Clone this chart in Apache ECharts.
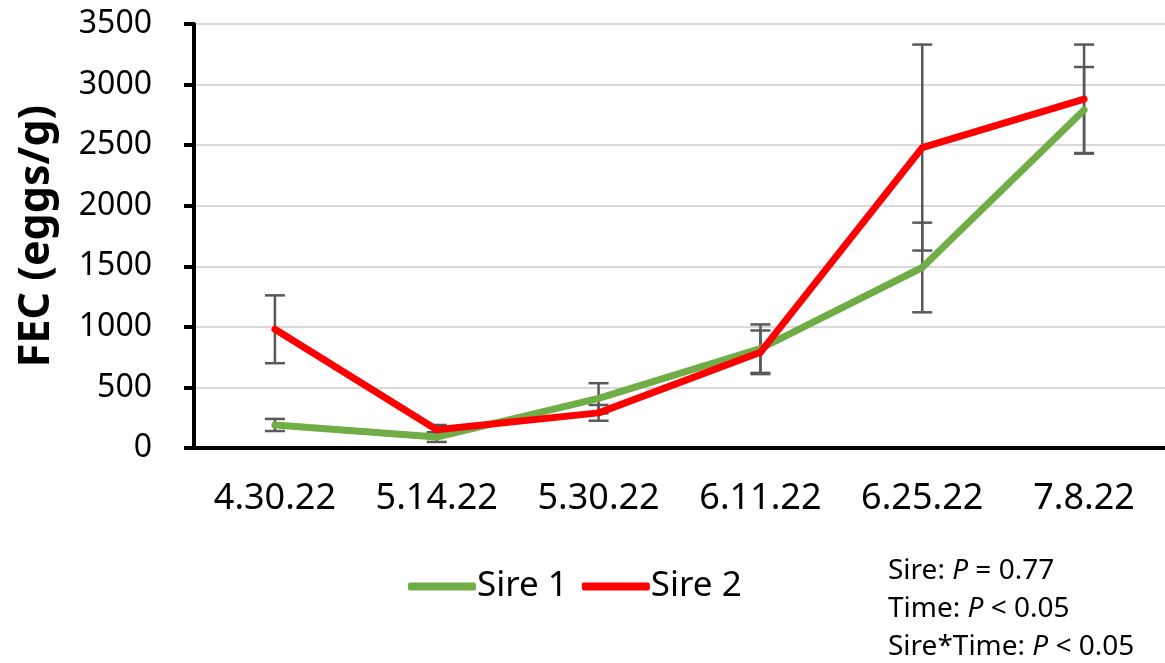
<!DOCTYPE html>
<html>
<head>
<meta charset="utf-8">
<script src="https://cdn.jsdelivr.net/npm/echarts@6/dist/echarts.min.js"></script>
<style>
html,body{margin:0;padding:0;background:#fff;}
#chart{width:1165px;height:663px;}
</style>
</head>
<body>
<div id="chart"></div>
<script>
const categories = ['4.30.22', '5.14.22', '5.30.22', '6.11.22', '6.25.22', '7.8.22'];
const sire1 = [190, 90, 410, 820, 1490, 2790];
const sire1Err = [50, 40, 125, 200, 370, 355];
const sire2 = [980, 150, 290, 790, 2480, 2880];
const sire2Err = [280, 40, 65, 180, 850, 450];
const seriesNames = ['Sire 1', 'Sire 2'];
const statLines = [
  ['Sire: ', 'P', ' = 0.77'],
  ['Time: ', 'P', ' < 0.05'],
  ['Sire*Time: ', 'P', ' < 0.05']
];

const FONT = 'Noto Sans';

function errData(means, errs) {
  return means.map((m, i) => [i, m - errs[i], m + errs[i]]);
}

function renderErr(params, api) {
  const x = api.value(0);
  const lo = api.coord([x, api.value(1)]);
  const hi = api.coord([x, api.value(2)]);
  const hw = 10;
  const style = { stroke: '#595959', lineWidth: 2.5, fill: null };
  return {
    type: 'group',
    children: [
      { type: 'line', shape: { x1: lo[0], y1: lo[1], x2: hi[0], y2: hi[1] }, style },
      { type: 'line', shape: { x1: lo[0] - hw, y1: lo[1], x2: lo[0] + hw, y2: lo[1] }, style },
      { type: 'line', shape: { x1: hi[0] - hw, y1: hi[1], x2: hi[0] + hw, y2: hi[1] }, style }
    ]
  };
}

const chart = echarts.init(document.getElementById('chart'), null, { renderer: 'canvas' });

const statGraphics = statLines.map((l, i) => ({
  type: 'text',
  left: 888,
  top: 557 + i * 38,
  style: {
    text: '{n|' + l[0] + '}{i|' + l[1] + '}{n|' + l[2] + '}',
    rich: {
      n: { fontFamily: FONT, fontSize: 28, fill: '#000' },
      i: { fontFamily: FONT, fontSize: 28, fontStyle: 'italic', fill: '#000' }
    }
  }
}));

chart.setOption({
  backgroundColor: '#fff',
  animation: false,
  grid: { left: 194, right: -4, top: 24, bottom: 215, containLabel: false },
  legend: {
    data: seriesNames,
    left: 403,
    top: 564,
    itemWidth: 68,
    itemHeight: 8,
    itemGap: 14,
    icon: 'roundRect',
    textStyle: { fontFamily: FONT, fontSize: 35, color: '#000', padding: [0, 0, 0, -4] }
  },
  xAxis: {
    type: 'category',
    data: categories,
    boundaryGap: true,
    axisLine: { lineStyle: { color: '#000', width: 4 } },
    axisTick: { alignWithLabel: true, interval: 0, length: 8, lineStyle: { color: '#000', width: 4 } },
    axisLabel: { interval: 0, fontFamily: FONT, fontSize: 36, color: '#000', margin: 33 }
  },
  yAxis: {
    type: 'value',
    min: 0,
    max: 3500,
    interval: 500,
    name: 'FEC (eggs/g)',
    nameLocation: 'middle',
    nameGap: 136,
    nameRotate: 90,
    nameTextStyle: { fontFamily: FONT, fontSize: 43, fontWeight: 'bold', color: '#000' },
    axisLine: { show: true, lineStyle: { color: '#000', width: 4 } },
    axisTick: { show: true, length: 10, lineStyle: { color: '#000', width: 4 } },
    axisLabel: { fontFamily: FONT, fontSize: 32, color: '#000', margin: 42, formatter: v => String(v) },
    splitLine: { lineStyle: { color: '#d9d9d9', width: 2 } }
  },
  graphic: statGraphics,
  series: [
    {
      type: 'custom',
      name: 'err1',
      renderItem: renderErr,
      data: errData(sire1, sire1Err),
      z: 1,
      silent: true
    },
    {
      type: 'custom',
      name: 'err2',
      renderItem: renderErr,
      data: errData(sire2, sire2Err),
      z: 1,
      silent: true
    },
    {
      type: 'line',
      name: seriesNames[0],
      data: sire1,
      color: '#70AD47',
      showSymbol: false,
      symbol: 'none',
      lineStyle: { width: 7, color: '#70AD47', cap: 'round', join: 'round' },
      z: 3
    },
    {
      type: 'line',
      name: seriesNames[1],
      data: sire2,
      color: '#FF0000',
      showSymbol: false,
      symbol: 'none',
      lineStyle: { width: 7, color: '#FF0000', cap: 'round', join: 'round' },
      z: 4
    }
  ]
});
</script>
</body>
</html>
